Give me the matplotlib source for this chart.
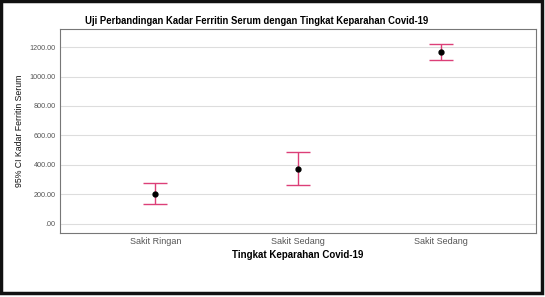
import matplotlib.pyplot as plt
from matplotlib.patches import Rectangle

categories = ["Sakit Ringan", "Sakit Sedang", "Sakit Sedang"]
means = [203, 372, 1166]
ci_lower = [132, 259, 1109]
ci_upper = [273, 488, 1221]
yticks = [0, 200, 400, 600, 800, 1000, 1200]
ytick_labels = [".00", "200.00", "400.00", "600.00", "800.00", "1000.00", "1200.00"]

plt.rcParams['font.family'] = ['Liberation Sans', 'DejaVu Sans']

fig = plt.figure(figsize=(5.45, 2.97), dpi=100)
ax = fig.add_axes([60 / 545, 1 - 233 / 297, 476 / 545, 204 / 297])

x = list(range(len(categories)))
err = [[m - lo for m, lo in zip(means, ci_lower)],
       [hi - m for m, hi in zip(means, ci_upper)]]
ax.errorbar(x, means, yerr=err, fmt='none', ecolor='#dc3f78', elinewidth=1.0,
            capsize=8.6, capthick=1.0, zorder=3)
ax.plot(x, means, 'o', color='black', markersize=3.5, zorder=4)

ax.set_xlim(-0.667, 2.667)
ax.set_ylim(-64, 1323)
ax.set_xticks(x)
ax.set_xticklabels(categories, fontsize=6.5, color='#555555')
ax.set_yticks(yticks)
ax.set_yticklabels(ytick_labels, fontsize=5.2, color='#555555')
ax.tick_params(axis='x', length=0, pad=3)
ax.tick_params(axis='y', length=0, pad=3)
ax.yaxis.grid(True, color='#dddddd', linewidth=0.8)
ax.set_axisbelow(True)
for s in ax.spines.values():
    s.set_color('#777777')
    s.set_linewidth(0.8)

ax.set_xlabel("Tingkat Keparahan Covid-19", fontsize=7, fontweight='bold', labelpad=3)
ax.yaxis.set_label_coords(-36 / 476, 0.5)
ax.set_ylabel("95% CI Kadar Ferritin Serum", fontsize=6.3, color='#111111')
fig.text(257 / 545, 1 - 21 / 297,
         "Uji Perbandingan Kadar Ferritin Serum dengan Tingkat Keparahan Covid-19",
         fontsize=6.85, fontweight='bold', ha='center', va='center')

# outer black frame
fig.patches.append(Rectangle((0.002, 0.015), 0.992, 0.982, transform=fig.transFigure,
                             fill=False, edgecolor='#111111', linewidth=2.5))

fig.savefig("out.png", dpi=100)
